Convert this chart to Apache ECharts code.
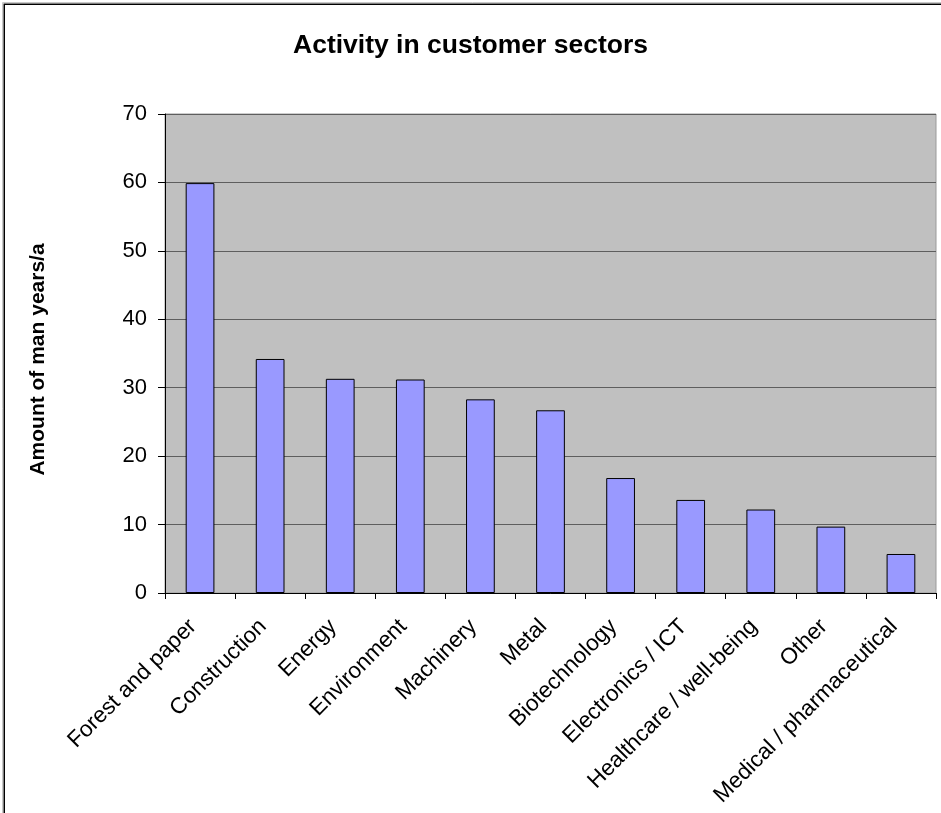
<!DOCTYPE html>
<html>
<head>
<meta charset="utf-8">
<style>
  html, body { margin: 0; padding: 0; background: #fff; }
  #chart { width: 941px; height: 813px; }
</style>
<script src="https://cdn.jsdelivr.net/npm/echarts@6/dist/echarts.min.js"></script>
</head>
<body>
<div id="chart"></div>
<script>
// Customer sectors and the man-years of activity in each
const sectors = [
  'Forest and paper', 'Construction', 'Energy', 'Environment', 'Machinery',
  'Metal', 'Biotechnology', 'Electronics / ICT', 'Healthcare / well-being',
  'Other', 'Medical / pharmaceutical'
];
const manYears = [59.9, 34.2, 31.3, 31.2, 28.3, 26.7, 16.8, 13.6, 12.2, 9.7, 5.7];
const yTicks = [0, 10, 20, 30, 40, 50, 60, 70];

const FONT = '"Liberation Sans", Arial, sans-serif';

const chart = echarts.init(document.getElementById('chart'));
chart.setOption({
  animation: false,
  backgroundColor: '#ffffff',
  title: {
    text: 'Activity in customer sectors',
    left: 'center',
    top: 27,
    textStyle: { fontFamily: FONT, fontSize: 26.5, fontWeight: 'bold', color: '#000' }
  },
  graphic: [
    { type: 'rect', silent: true,
      shape: { x: 2.5, y: 2.5, width: 1200, height: 1200 },
      style: { fill: 'none', stroke: '#c8c8c8', lineWidth: 1 } },
    { type: 'rect', silent: true,
      shape: { x: 4.25, y: 4.25, width: 1200, height: 1200 },
      style: { fill: 'none', stroke: '#000', lineWidth: 1.5 } }
  ],
  grid: {
    left: 165, right: 5, top: 114, bottom: 220,
    show: true, backgroundColor: '#c0c0c0',
    borderColor: '#9a9a9a', borderWidth: 1
  },
  xAxis: {
    type: 'category',
    data: sectors,
    axisLine: { lineStyle: { color: '#000', width: 1 } },
    axisTick: { show: true, length: 6, alignWithLabel: false, lineStyle: { color: '#000' } },
    axisLabel: {
      rotate: 45, interval: 0, margin: 23,
      padding: [0, 10, 0, 0],
      fontFamily: FONT, fontSize: 22.5, color: '#000'
    },
    splitLine: { show: false }
  },
  yAxis: {
    type: 'value',
    min: yTicks[0], max: yTicks[yTicks.length - 1], interval: 10,
    name: 'Amount of man years/a',
    nameLocation: 'middle',
    nameRotate: 90,
    nameGap: 116,
    nameTextStyle: {
      fontFamily: FONT, fontSize: 21, fontWeight: 'bold', color: '#000',
      padding: [0, 12, 0, 0]
    },
    axisLine: { show: true, lineStyle: { color: '#000', width: 1 } },
    axisTick: { show: true, length: 7, lineStyle: { color: '#000' } },
    axisLabel: { margin: 18, fontFamily: FONT, fontSize: 22, color: '#000' },
    splitLine: { show: true, lineStyle: { color: '#5e5e5e', width: 1.2 } }
  },
  series: [{
    type: 'bar',
    data: manYears,
    barWidth: '41%',
    itemStyle: { color: '#9999ff', borderColor: '#000', borderWidth: 1 }
  }]
});
</script>
</body>
</html>
